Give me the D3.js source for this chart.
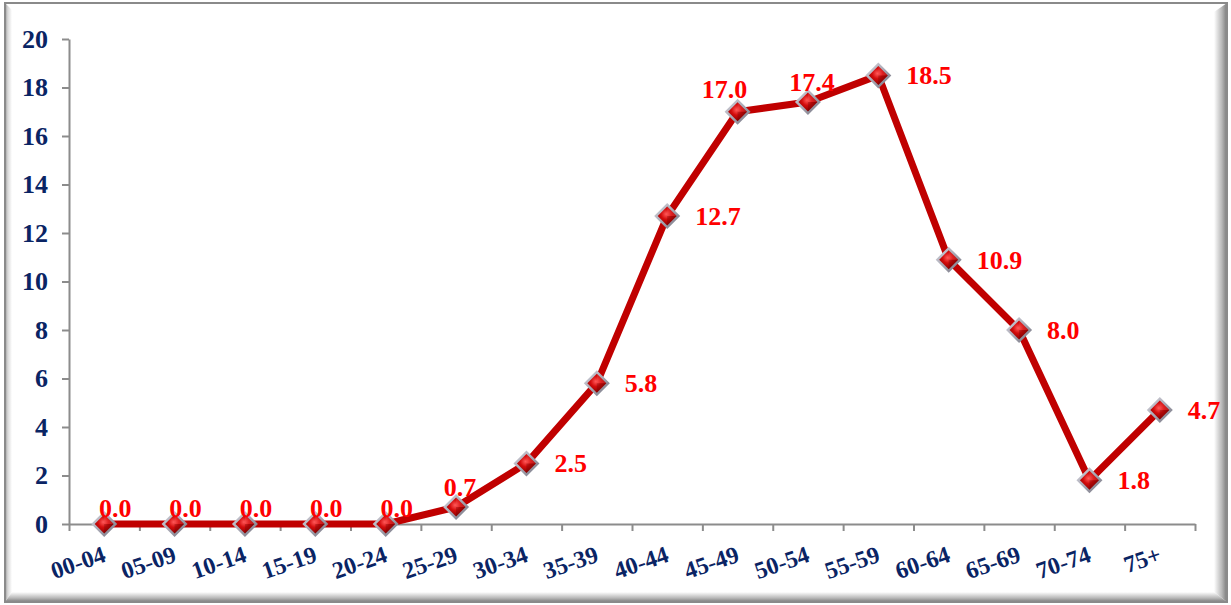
<!DOCTYPE html>
<html>
<head>
<meta charset="utf-8">
<script src="https://cdn.jsdelivr.net/npm/d3@7"></script>
<style>
html,body{margin:0;padding:0;background:#fff;}
svg{display:block;}
</style>
</head>
<body>
<svg id="chart" width="1231" height="605"></svg>
<script>
// ---- data ----
const categories = ["00-04","05-09","10-14","15-19","20-24","25-29","30-34","35-39","40-44","45-49","50-54","55-59","60-64","65-69","70-74","75+"];
const values = [0.0,0.0,0.0,0.0,0.0,0.7,2.5,5.8,12.7,17.0,17.4,18.5,10.9,8.0,1.8,4.7];
const yTicks = [0,2,4,6,8,10,12,14,16,18,20];
// label placement per point (style, not data)
const labelPlacement = ["zero","zero","zero","zero","zero","above","right","right","right","aboveLeft","above","right","right","right","right","right"];

const W = 1231, H = 605;
const svg = d3.select("#chart");
const defs = svg.append("defs");

// ---- frame ----
const gR = defs.append("linearGradient").attr("id","gR").attr("x1","0").attr("x2","1").attr("y1","0").attr("y2","0");
gR.append("stop").attr("offset","0").attr("stop-color","#ffffff");
gR.append("stop").attr("offset","0.6").attr("stop-color","#b8b8b8");
gR.append("stop").attr("offset","1").attr("stop-color","#7a7a7a");
const gB = defs.append("linearGradient").attr("id","gB").attr("x1","0").attr("x2","0").attr("y1","0").attr("y2","1");
gB.append("stop").attr("offset","0").attr("stop-color","#ffffff");
gB.append("stop").attr("offset","0.6").attr("stop-color","#b8b8b8");
gB.append("stop").attr("offset","1").attr("stop-color","#7a7a7a");
const gL = defs.append("linearGradient").attr("id","gL").attr("x1","0").attr("x2","1").attr("y1","0").attr("y2","0");
gL.append("stop").attr("offset","0").attr("stop-color","#9a9a9a");
gL.append("stop").attr("offset","0.4").attr("stop-color","#d8d8d8");
gL.append("stop").attr("offset","1").attr("stop-color","#ffffff");

svg.append("rect").attr("x",0).attr("y",0).attr("width",W).attr("height",H).attr("fill","#fff");
svg.append("path").attr("d","M5,3 L12,10 L12,592 L5,602 Z").attr("fill","url(#gL)");
svg.append("path").attr("d","M1214,12 L1227,3 L1227,602 L1214,592 Z").attr("fill","url(#gR)");
svg.append("path").attr("d","M5,602 L12,592 L1214,592 L1227,602 Z").attr("fill","url(#gB)");
svg.append("rect").attr("x",5).attr("y",3).attr("width",1222).attr("height",599)
  .attr("fill","none").attr("stroke","#8a8a8a").attr("stroke-width",2);

// ---- scales ----
const x = d3.scaleBand().domain(categories).range([69,1195]).padding(0);
const xb = d3.scaleLinear().domain([0,categories.length]).range([69,1195]);
const y = d3.scaleLinear().domain([0,20]).range([524,39]);
const cx = c => x(c) + x.bandwidth()/2;

const navy = "#0a2464";
const axisFont = "'Liberation Serif','Times New Roman',serif";

// y axis
const yAxis = svg.append("g").attr("transform","translate(69,0)")
  .call(d3.axisLeft(y).tickValues(yTicks).tickSize(7).tickSizeOuter(0).tickPadding(14).tickFormat(d3.format("d")));
yAxis.selectAll("path, line").attr("stroke","#8c8c8c").attr("stroke-width",2);
yAxis.selectAll("text").attr("font-family",axisFont).attr("font-weight","bold").attr("font-size","26px").attr("fill",navy);

// x axis (ticks at category boundaries)
const xAxis = svg.append("g").attr("transform","translate(0,524)")
  .call(d3.axisBottom(xb).tickValues(d3.range(categories.length+1)).tickSize(7).tickSizeOuter(0).tickFormat(""));
xAxis.selectAll("path, line").attr("stroke","#8c8c8c").attr("stroke-width",2);

// x labels rotated
svg.append("g").selectAll("text").data(categories).join("text")
  .attr("transform", d => `translate(${cx(d)+3},561) rotate(-19)`)
  .attr("text-anchor","end")
  .attr("font-family",axisFont).attr("font-weight","bold").attr("font-size","24px").attr("fill",navy)
  .text(d => d);

// ---- line ----
const pts = categories.map((c,i)=>({c, v: values[i], p: labelPlacement[i]}));
svg.append("path").datum(pts)
  .attr("d", d3.line().x(d=>cx(d.c)).y(d=>y(d.v)))
  .attr("fill","none").attr("stroke","#c00000").attr("stroke-width",7).attr("stroke-linejoin","round");

// ---- markers ----
const gOut = defs.append("linearGradient").attr("id","gOut").attr("x1","0").attr("y1","0").attr("x2","1").attr("y2","1");
gOut.append("stop").attr("offset","0").attr("stop-color","#d8d8e0");
gOut.append("stop").attr("offset","0.5").attr("stop-color","#a8a8b4");
gOut.append("stop").attr("offset","1").attr("stop-color","#6e6e7a");
const gIn = defs.append("radialGradient").attr("id","gIn").attr("cx","0.45").attr("cy","0.4").attr("r","0.6");
gIn.append("stop").attr("offset","0").attr("stop-color","#ff5a5a");
gIn.append("stop").attr("offset","0.45").attr("stop-color","#d40c0c");
gIn.append("stop").attr("offset","1").attr("stop-color","#8a0000");

const mk = svg.append("g").selectAll("g").data(pts).join("g")
  .attr("transform", d=>`translate(${cx(d.c)},${y(d.v)})`);
const R = 13, r = 9.5;
mk.append("path").attr("d",`M0,${-R} L${R},0 L0,${R} L${-R},0 Z`).attr("fill","url(#gOut)");
mk.append("path").attr("d",`M0,${-r} L${r},0 L0,${r} L${-r},0 Z`).attr("fill","url(#gIn)");
// facets
mk.append("path").attr("d",`M0,${-r} L${r},0 L0,0 Z`).attr("fill","#ff6060").attr("opacity",0.25);
mk.append("path").attr("d",`M0,${r} L${r},0 L0,0 Z`).attr("fill","#500000").attr("opacity",0.25);

// ---- data labels ----
const off = {
  zero:     {dx: 11, dy: -7,  a: "middle"},
  above:    {dx: 4,  dy: -11, a: "middle"},
  aboveLeft:{dx: -13,dy: -14, a: "middle"},
  right:    {dx: 28, dy: 9,   a: "start"}
};
svg.append("g").selectAll("text").data(pts).join("text")
  .attr("x", d=>cx(d.c)+off[d.p].dx)
  .attr("y", d=>y(d.v)+off[d.p].dy)
  .attr("text-anchor", d=>off[d.p].a)
  .attr("font-family",axisFont).attr("font-weight","bold").attr("font-size","26px").attr("fill","#ff0000")
  .text(d=>d.v.toFixed(1));
</script>
</body>
</html>
